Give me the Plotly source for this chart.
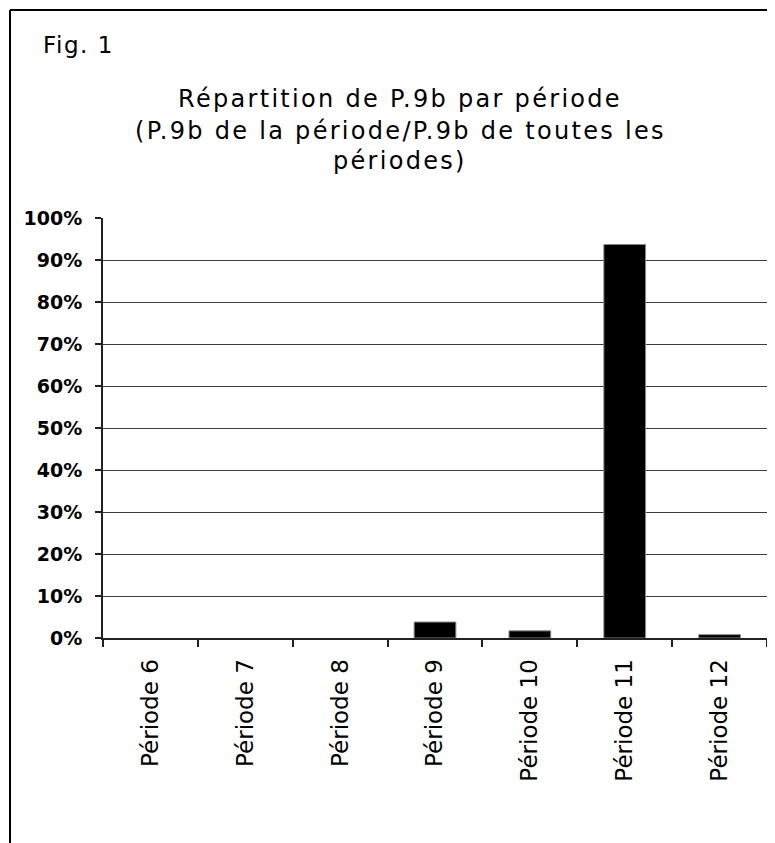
import plotly.graph_objects as go

categories = ["Période 6", "Période 7", "Période 8", "Période 9", "Période 10", "Période 11", "Période 12"]
values = [0.0, 0.0, 0.0, 0.038, 0.017, 0.937, 0.008]
y_ticks = [0.0, 0.1, 0.2, 0.3, 0.4, 0.5, 0.6, 0.7, 0.8, 0.9, 1.0]
y_labels = ["0%", "10%", "20%", "30%", "40%", "50%", "60%", "70%", "80%", "90%", "100%"]
grid_ticks = [0.1, 0.2, 0.3, 0.4, 0.5, 0.6, 0.7, 0.8, 0.9]
title_lines = ["Répartition de P.9b par période",
               "(P.9b de la période/P.9b de toutes les",
               "périodes)"]
fig_label = "Fig. 1"

W, H = 775, 843
OFF = 8  # page body margin
# plot area in page pixels: x 103..767, y 218..638
L = 103 - OFF
T = 218 - OFF
R = W - (767 - OFF)
B = H - (638 - OFF)
pw, ph = W - L - R, H - T - B

def px_x(x):
    return (x - OFF - L) / pw

def px_y(y):
    return (H - B - (y - OFF)) / ph

FONT = "DejaVu Sans"

fig = go.Figure()
fig.add_trace(go.Bar(
    x=categories, y=values, width=0.44,
    marker=dict(color="black",
                line=dict(color="#8a8a8a", width=[1 if v > 0 else 0 for v in values])),
    showlegend=False,
))
fig.add_trace(go.Scatter(x=[categories[0]], y=[0], yaxis="y2", mode="markers",
                         marker=dict(opacity=0), showlegend=False, hoverinfo="skip"))

fig.update_layout(
    width=W, height=H,
    margin=dict(l=L, r=R, t=T, b=B, autoexpand=False),
    paper_bgcolor="white", plot_bgcolor="white",
    xaxis=dict(
        type="category", tickson="boundaries", ticks="outside", ticklen=7,
        tickwidth=1.5, tickcolor="#222", showline=True, linecolor="#222", linewidth=2,
        tickangle=-90, tickfont=dict(family=FONT, size=23, color="black"),
        ticklabelstandoff=10, showgrid=False, automargin=False,
    ),
    yaxis=dict(
        range=[0, 1], tickvals=y_ticks, ticktext=y_labels, ticks="outside",
        ticklen=6, tickwidth=1.5, tickcolor="#222", showline=True, linecolor="#222",
        linewidth=2, showgrid=False, zeroline=False,
        tickfont=dict(family=FONT, size=19, color="black", weight="bold"),
        ticklabelstandoff=9, automargin=False,
    ),
    yaxis2=dict(
        range=[0, 1], overlaying="y", tickvals=grid_ticks, showticklabels=False,
        ticks="", showgrid=True, gridcolor="#3c3c3c", gridwidth=1, zeroline=False,
        showline=False,
    ),
)

ys = [99, 131, 161]
for line, yy in zip(title_lines, ys):
    fig.add_annotation(
        text='<span style="letter-spacing:2.3px">' + line + '</span>',
        x=px_x(400), y=px_y(yy), xref="paper", yref="paper",
        xanchor="center", yanchor="middle", showarrow=False,
        font=dict(family=FONT, size=24, color="black"),
    )
fig.add_annotation(
    text='<span style="letter-spacing:1.5px">' + fig_label + '</span>',
    x=px_x(41), y=px_y(45), xref="paper", yref="paper",
    xanchor="left", yanchor="middle", showarrow=False,
    font=dict(family=FONT, size=23, color="black"),
)

# outer frame (top and left edges visible)
fig.add_shape(type="line", xref="paper", yref="paper",
              x0=px_x(10), x1=px_x(W + 30), y0=px_y(10), y1=px_y(10),
              line=dict(color="black", width=2))
fig.add_shape(type="line", xref="paper", yref="paper",
              x0=px_x(10), x1=px_x(10), y0=px_y(10), y1=px_y(H + 30),
              line=dict(color="black", width=2))

fig.write_html("out.html")
